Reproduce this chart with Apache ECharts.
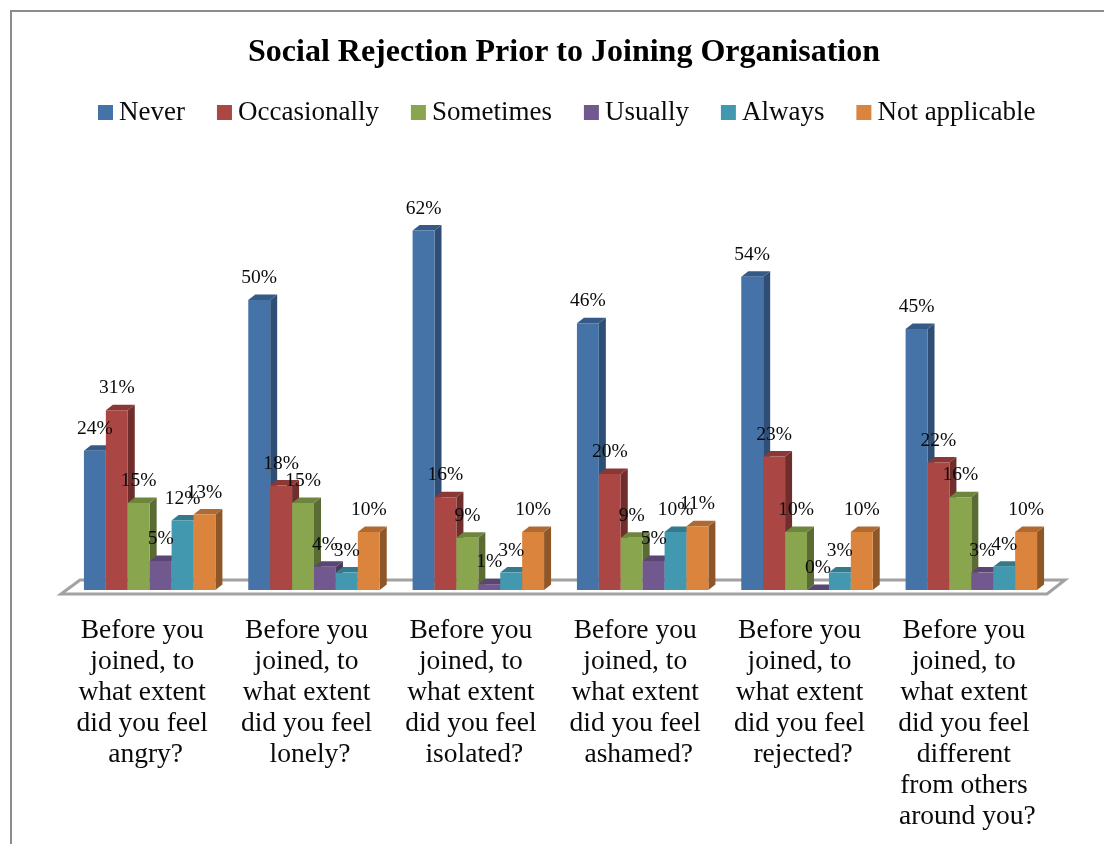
<!DOCTYPE html>
<html>
<head>
<meta charset="utf-8">
<style>html,body{margin:0;padding:0;background:#fff}#chart{width:1104px;height:844px}</style>
<script src="https://cdn.jsdelivr.net/npm/echarts@6/dist/echarts.min.js"></script>
</head>
<body>
<div id="chart"></div>
<script>
// Survey questions along the category axis
const categories = [
  'Before you joined, to what extent did you feel angry?',
  'Before you joined, to what extent did you feel lonely?',
  'Before you joined, to what extent did you feel isolated?',
  'Before you joined, to what extent did you feel ashamed?',
  'Before you joined, to what extent did you feel rejected?',
  'Before you joined, to what extent did you feel different from others around you?'
];

// Percentage of respondents per answer
const never = [24, 50, 62, 46, 54, 45];
const occasionally = [31, 18, 16, 20, 23, 22];
const sometimes = [15, 15, 9, 9, 10, 16];
const usually = [5, 4, 1, 5, 0, 3];
const always = [12, 3, 3, 10, 3, 4];
const notApplicable = [13, 10, 10, 11, 10, 10];

// Front, top and side face colours of each answer
const answers = [
  { name: 'Never', values: never, front: '#4572a7', top: '#365a86', side: '#2f4e75' },
  { name: 'Occasionally', values: occasionally, front: '#aa4643', top: '#8a3836', side: '#6f2d2c' },
  { name: 'Sometimes', values: sometimes, front: '#89a54e', top: '#6e853e', side: '#5a6b33' },
  { name: 'Usually', values: usually, front: '#71588f', top: '#5a4672', side: '#4a3a5e' },
  { name: 'Always', values: always, front: '#4198af', top: '#347a8d', side: '#2b6373' },
  { name: 'Not applicable', values: notApplicable, front: '#db843d', top: '#b06a31', side: '#8f5628' }
];

const serifFont = '"Liberation Serif", serif';
const DEPTH_X = 7;
const DEPTH_Y = 5.5;
const GROUP_FILL = 0.8;   // share of a category band taken by its six bars
const GROUP_SHIFT = 6.5;  // bars stand slightly back from the band centre

// Extruded column with its value above the front face
function renderBar(seriesIndex, params, api) {
  const base = api.coord([api.value(0), 0]);
  const head = api.coord([api.value(0), api.value(1)]);
  const barWidth = api.size([1, 0])[0] * GROUP_FILL / answers.length;
  const x0 = base[0] + GROUP_SHIFT + (seriesIndex - answers.length / 2) * barWidth;
  const x1 = x0 + barWidth;
  const yTop = head[1];
  const yBase = base[1];
  const a = answers[seriesIndex];
  return {
    type: 'group',
    children: [
      {
        type: 'polygon',
        shape: { points: [[x1, yBase], [x1 + DEPTH_X, yBase - DEPTH_Y], [x1 + DEPTH_X, yTop - DEPTH_Y], [x1, yTop]] },
        style: { fill: a.side }
      },
      {
        type: 'polygon',
        shape: { points: [[x0, yTop], [x1, yTop], [x1 + DEPTH_X, yTop - DEPTH_Y], [x0 + DEPTH_X, yTop - DEPTH_Y]] },
        style: { fill: a.top }
      },
      {
        type: 'rect',
        shape: { x: x0, y: yTop, width: barWidth, height: yBase - yTop },
        style: { fill: a.front }
      },
      {
        type: 'text',
        z2: 100,
        style: {
          x: (x0 + x1) / 2,
          y: yTop - 22,
          text: api.value(1) + '%',
          align: 'center',
          verticalAlign: 'middle',
          font: '19.5px ' + serifFont,
          fill: '#0a0a0a'
        }
      }
    ]
  };
}

// Grey floor plate the columns stand on
function renderFloor(params) {
  const cs = params.coordSys;
  const yBase = cs.y + cs.height;
  const xL = cs.x;
  const xR = cs.x + cs.width;
  return {
    type: 'polygon',
    shape: { points: [[xL, yBase + 4], [xR, yBase + 4], [xR + 18, yBase - 10], [xL + 19, yBase - 10]] },
    style: { fill: '#fff', stroke: '#a2a2a2', lineWidth: 3, lineJoin: 'miter' }
  };
}

const chart = echarts.init(document.getElementById('chart'), null, { renderer: 'canvas' });

chart.setOption({
  animation: false,
  backgroundColor: '#fff',
  title: {
    text: 'Social Rejection Prior to Joining Organisation',
    left: 559,
    top: 32,
    textAlign: 'center',
    textStyle: { fontFamily: serifFont, fontWeight: 'bold', fontSize: 32, color: '#000' }
  },
  legend: {
    data: answers.map(a => a.name),
    left: 93,
    top: 94,
    icon: 'rect',
    itemWidth: 15,
    itemHeight: 15,
    itemGap: 32,
    textStyle: { fontFamily: serifFont, fontSize: 27, color: '#0a0a0a', padding: [0, 0, 0, 1] },
    selectedMode: false
  },
  grid: { left: 61, right: 57, top: 184, bottom: 254 },
  xAxis: {
    type: 'category',
    data: categories,
    axisLine: { show: false },
    axisTick: { show: false },
    axisLabel: {
      interval: 0,
      margin: 25,
      width: 150,
      overflow: 'break',
      lineHeight: 31,
      padding: [0, 0, 0, 5],
      fontFamily: serifFont,
      fontSize: 27.5,
      color: '#0a0a0a'
    }
  },
  yAxis: { type: 'value', min: 0, max: 70, show: false },
  graphic: [{
    type: 'rect',
    shape: { x: 11, y: 11, width: 1200, height: 900 },
    style: { fill: 'none', stroke: '#8c8c8c', lineWidth: 2 },
    silent: true,
    z: -1
  }],
  series: [
    {
      type: 'custom',
      name: 'floor',
      silent: true,
      data: [[0, 0]],
      encode: { x: 0, y: 1 },
      renderItem: renderFloor
    }
  ].concat(answers.map((a, i) => ({
    type: 'custom',
    name: a.name,
    itemStyle: { color: a.front },
    encode: { x: 0, y: 1 },
    data: a.values.map((v, c) => [c, v]),
    renderItem: (params, api) => renderBar(i, params, api)
  })))
});
</script>
</body>
</html>
